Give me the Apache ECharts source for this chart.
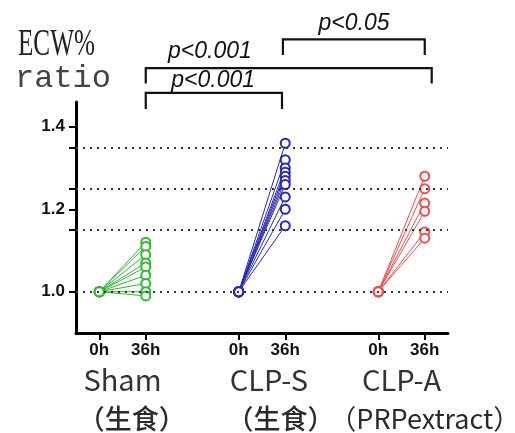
<!DOCTYPE html>
<html>
<head>
<meta charset="utf-8">
<script src="https://cdn.jsdelivr.net/npm/echarts@6/dist/echarts.min.js"></script>
<style>
  html, body { margin: 0; padding: 0; background: #fff; }
  #chart { width: 515px; height: 433px; }
</style>
</head>
<body>
<div id="chart"></div>
<script>
// groups and time points
const groupNames = ['Sham', 'CLP-S', 'CLP-A'];
const groupSubs = ['（生食）', '（生食）', '（PRPextract）'];
const groupStart = [0, 3, 6];
const timeLabels = ['0h', '36h'];
const colors = ['#35b835', '#2828b4', '#f04c4c'];

// ECW% ratio, every subject starts at 1.0 at 0h
const baseline = 1.0;
const shamEnd = [1.12, 1.11, 1.09, 1.07, 1.06, 1.04, 1.02, 1.00, 0.99];
const clpSEnd = [1.36, 1.32, 1.30, 1.29, 1.28, 1.27, 1.26, 1.23, 1.20, 1.16];
const clpAEnd = [1.28, 1.25, 1.215, 1.195, 1.145, 1.13];

// y axis
const yLabelValues = [1.0, 1.2, 1.4];
const yTickValues = [1.0, 1.15, 1.2, 1.25, 1.35, 1.4];
const refLines = [1.0, 1.15, 1.25, 1.35];

// significance brackets
const bracketFrom = [1, 1, 3.95];
const bracketTo = [3.93, 7.15, 7.0];
const bracketTop = [1.482, 1.542, 1.612];
const bracketLeg = [1.443, 1.505, 1.574];
const bracketTextX = [2.45, 2.38, 5.48];
const bracketTextY = [1.513, 1.582, 1.650];
const bracketText = ['p<0.001', 'p<0.001', 'p<0.05'];

const chart = echarts.init(document.getElementById('chart'));

const tickX = [];
groupStart.forEach(s => { tickX.push(s, s + 1); });

const ends = [shamEnd, clpSEnd, clpAEnd];
const series = [];
ends.forEach((arr, g) => {
  arr.forEach(v => {
    series.push({
      type: 'line',
      data: [[groupStart[g], baseline], [groupStart[g] + 1, v]],
      symbol: 'emptyCircle',
      symbolSize: 9,
      lineStyle: { color: colors[g], width: 1 },
      itemStyle: { color: colors[g], borderColor: colors[g], borderWidth: 1.3 },
      emphasis: { disabled: true },
      z: 3
    });
  });
});
// dotted reference lines
series[0].markLine = {
  silent: true,
  symbol: 'none',
  animation: false,
  label: { show: false },
  lineStyle: { type: [2, 5], width: 2, color: '#333' },
  emphasis: { disabled: true },
  data: refLines.map(v => ({ yAxis: v }))
};

chart.setOption({
  animation: false,
  grid: { left: 76, right: 67, top: 102, bottom: 100 },
  xAxis: {
    type: 'value',
    min: -0.5,
    max: 7.5,
    splitLine: { show: false },
    axisLine: { onZero: false, lineStyle: { color: '#000', width: 3 } },
    axisTick: { customValues: tickX, length: 7, lineStyle: { color: '#000', width: 2 } },
    axisLabel: {
      customValues: tickX,
      margin: 9,
      color: '#111',
      fontWeight: 'bold',
      fontSize: 17,
      fontFamily: 'Liberation Sans',
      formatter: v => timeLabels[v % 3]
    }
  },
  yAxis: {
    type: 'value',
    min: 0.9,
    max: 1.46,
    splitLine: { show: false },
    axisLine: { show: true, onZero: false, lineStyle: { color: '#000', width: 3 } },
    axisTick: { show: true, customValues: yTickValues, length: 7, lineStyle: { color: '#000', width: 2 } },
    axisLabel: {
      customValues: yLabelValues,
      margin: 11,
      color: '#111',
      fontWeight: 'bold',
      fontSize: 17,
      fontFamily: 'Liberation Sans',
      formatter: v => v.toFixed(1)
    }
  },
  series: series
});

const px = (x, y) => chart.convertToPixel({ gridIndex: 0 }, [x, y]);
const graphic = [];

// y axis title
graphic.push({
  type: 'text', x: 18, y: 27, scaleX: 0.68,
  style: { text: 'ECW%', font: '37px "Liberation Serif"', fill: '#222' }
});
graphic.push({
  type: 'text', x: 15, y: 63,
  style: { text: 'ratio', font: '32px "Liberation Mono"', fill: '#444' }
});

// group labels under the axis
const nameX = [0.5, 3.65, 6.5];
const subX = [0.7, 3.9, 7.0];
const subWeight = ['500', '500', 'normal'];
groupNames.forEach((n, i) => {
  const p = px(nameX[i], 0.9);
  graphic.push({
    type: 'text', x: p[0], y: 380,
    style: { text: n, font: '29px "Noto Sans CJK SC"', fill: '#333', align: 'center', verticalAlign: 'middle' }
  });
  const q = px(subX[i], 0.9);
  graphic.push({
    type: 'text', x: q[0], y: 419,
    style: { text: groupSubs[i], font: subWeight[i] + ' 27px "Noto Sans CJK SC"', fill: '#2a2a2a', align: 'center', verticalAlign: 'middle' }
  });
});

// brackets
bracketText.forEach((t, i) => {
  const a = px(bracketFrom[i], bracketLeg[i]);
  const b = px(bracketFrom[i], bracketTop[i]);
  const c = px(bracketTo[i], bracketTop[i]);
  const d = px(bracketTo[i], bracketLeg[i]);
  graphic.push({
    type: 'polyline',
    shape: { points: [a, b, c, d] },
    style: { stroke: '#111', lineWidth: 2.2, fill: null }
  });
  const tp = px(bracketTextX[i], bracketTextY[i]);
  graphic.push({
    type: 'text', x: tp[0], y: tp[1],
    style: { text: t, font: 'italic 23px "Liberation Sans"', fill: '#111', align: 'center', verticalAlign: 'middle' }
  });
});

chart.setOption({ graphic: graphic });
</script>
</body>
</html>
